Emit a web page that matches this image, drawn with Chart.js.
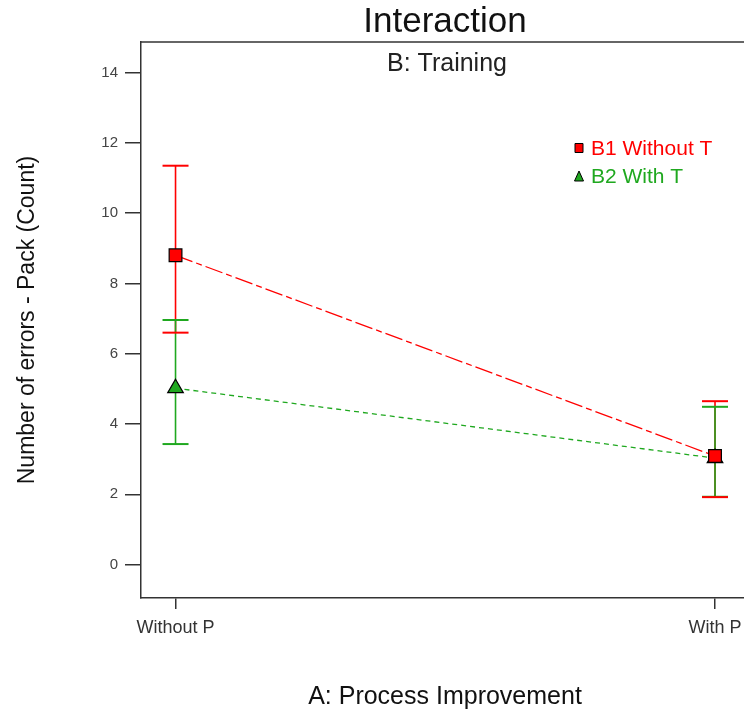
<!DOCTYPE html>
<html>
<head>
<meta charset="utf-8">
<script src="https://cdn.jsdelivr.net/npm/chart.js@4.4.1/dist/chart.umd.min.js"></script>
<style>
    html, body { margin: 0; padding: 0; background: #fff; overflow: hidden; }
    #wrap { width: 760px; height: 715px; }
</style>
</head>
<body>
<div id="wrap"><canvas id="interactionChart" width="760" height="715"></canvas></div>
<script>
// data
const categories = ['Without P', 'With P'];
const b1Means = [8.80, 3.09];
const b1Upper = [11.35, 4.65];
const b1Lower = [6.60, 1.92];
const b2Means = [5.02, 3.03];
const b2Upper = [6.96, 4.49];
const b2Lower = [3.43, 1.93];
const yTicks = [0, 2, 4, 6, 8, 10, 12, 14];

const FONT = 'Arial, "Liberation Sans", sans-serif';
const RED = '#ff0000';
const GREEN = '#1fa81f';

// error bars: all stems first, then caps (green stems over red, red caps on top)
const errorBars = {
    id: 'errorBars',
    beforeDatasetsDraw(chart) {
        const { ctx, scales: { x, y } } = chart;
        const sets = chart.data.datasets;
        ctx.save();
        ctx.lineWidth = 1.6;
        sets.forEach(ds => {
            ctx.strokeStyle = ds.borderColor;
            ds.data.forEach((p, i) => {
                const px = x.getPixelForValue(p.x);
                ctx.beginPath();
                ctx.moveTo(px, y.getPixelForValue(ds.upper[i]));
                ctx.lineTo(px, y.getPixelForValue(ds.lower[i]));
                ctx.stroke();
            });
        });
        ctx.lineWidth = 2;
        [...sets].reverse().forEach(ds => {
            ctx.strokeStyle = ds.borderColor;
            ds.data.forEach((p, i) => {
                const px = x.getPixelForValue(p.x);
                [ds.upper[i], ds.lower[i]].forEach(v => {
                    const py = y.getPixelForValue(v);
                    ctx.beginPath();
                    ctx.moveTo(px - 13, py);
                    ctx.lineTo(px + 13, py);
                    ctx.stroke();
                });
            });
        });
        ctx.restore();
    }
};

// titles, top border and the legend inside the plot
const decorations = {
    id: 'decorations',
    afterDraw(chart) {
        const { ctx, chartArea: a } = chart;
        const cx = (a.left + a.right) / 2;
        ctx.save();
        ctx.strokeStyle = '#333';
        ctx.lineWidth = 1.5;
        ctx.beginPath();
        ctx.moveTo(a.left, a.top);
        ctx.lineTo(a.right, a.top);
        ctx.stroke();

        ctx.fillStyle = '#111';
        ctx.textAlign = 'center';
        ctx.textBaseline = 'middle';
        ctx.font = '35px ' + FONT;
        ctx.fillText('Interaction', cx, 22);
        ctx.font = '25px ' + FONT;
        ctx.fillStyle = '#222';
        ctx.fillText('B: Training', cx + 2, a.top + 22);

        ctx.textAlign = 'left';
        ctx.font = '21px ' + FONT;
        chart.data.datasets.forEach((ds, i) => {
            const ly = a.top + 106 + i * 28;
            const lx = a.left + 438;
            ctx.fillStyle = ds.borderColor;
            ctx.strokeStyle = '#000';
            ctx.lineWidth = 1;
            ctx.beginPath();
            if (ds.pointStyle === 'triangle') {
                ctx.moveTo(lx, ly - 5);
                ctx.lineTo(lx + 4.5, ly + 5);
                ctx.lineTo(lx - 4.5, ly + 5);
                ctx.closePath();
            } else {
                ctx.rect(lx - 4, ly - 4.5, 8, 9);
            }
            ctx.fill();
            ctx.stroke();
            ctx.fillStyle = ds.borderColor;
            ctx.fillText(ds.label, lx + 12, ly + 1);
        });
        ctx.restore();
    }
};

new Chart(document.getElementById('interactionChart'), {
    type: 'line',
    data: {
        datasets: [
            {
                label: 'B1 Without T',
                data: categories.map((c, i) => ({ x: i, y: b1Means[i] })),
                upper: b1Upper,
                lower: b1Lower,
                borderColor: RED,
                backgroundColor: RED,
                borderWidth: 1.3,
                borderDash: [18, 4, 6, 4],
                pointStyle: 'rect',
                pointRadius: 9,
                pointBorderColor: '#000',
                pointBorderWidth: 1.2,
                pointBackgroundColor: RED
            },
            {
                label: 'B2 With T',
                data: categories.map((c, i) => ({ x: i, y: b2Means[i] })),
                upper: b2Upper,
                lower: b2Lower,
                borderColor: GREEN,
                backgroundColor: GREEN,
                borderWidth: 1.3,
                borderDash: [5, 4],
                pointStyle: 'triangle',
                pointRadius: 9,
                pointBorderColor: '#000',
                pointBorderWidth: 1.2,
                pointBackgroundColor: GREEN
            }
        ]
    },
    options: {
        responsive: false,
        animation: false,
        layout: { padding: { top: 42, left: 0, right: 11, bottom: 0 } },
        plugins: {
            legend: { display: false },
            title: { display: false },
            tooltip: { enabled: false }
        },
        scales: {
            x: {
                type: 'linear',
                min: -0.064,
                max: 1.063,
                afterFit: s => { s.height = 117; },
                afterBuildTicks: s => { s.ticks = categories.map((c, i) => ({ value: i })); },
                grid: { drawOnChartArea: false, drawTicks: true, tickLength: 11, color: '#333', lineWidth: 1.5 },
                border: { display: true, color: '#333', width: 1.5 },
                ticks: {
                    padding: 8,
                    color: '#333',
                    font: { family: FONT, size: 18 },
                    maxRotation: 0,
                    callback: v => categories[v]
                },
                title: {
                    display: true,
                    text: 'A: Process Improvement',
                    color: '#111',
                    font: { family: FONT, size: 25 },
                    padding: { top: 0, bottom: 3 }
                }
            },
            y: {
                min: -0.95,
                max: 14.87,
                afterFit: s => { s.width = 141; },
                afterBuildTicks: s => { s.ticks = yTicks.map(v => ({ value: v })); },
                grid: { drawOnChartArea: false, drawTicks: true, tickLength: 16, color: '#333', lineWidth: 1.5 },
                border: { display: true, color: '#333', width: 1.5 },
                ticks: {
                    padding: 7,
                    color: '#444',
                    font: { family: FONT, size: 15 }
                },
                title: {
                    display: true,
                    text: 'Number of errors - Pack (Count)',
                    color: '#111',
                    font: { family: FONT, size: 23 },
                    padding: { top: 14, bottom: 0 }
                }
            }
        }
    },
    plugins: [errorBars, decorations]
});
</script>
</body>
</html>
